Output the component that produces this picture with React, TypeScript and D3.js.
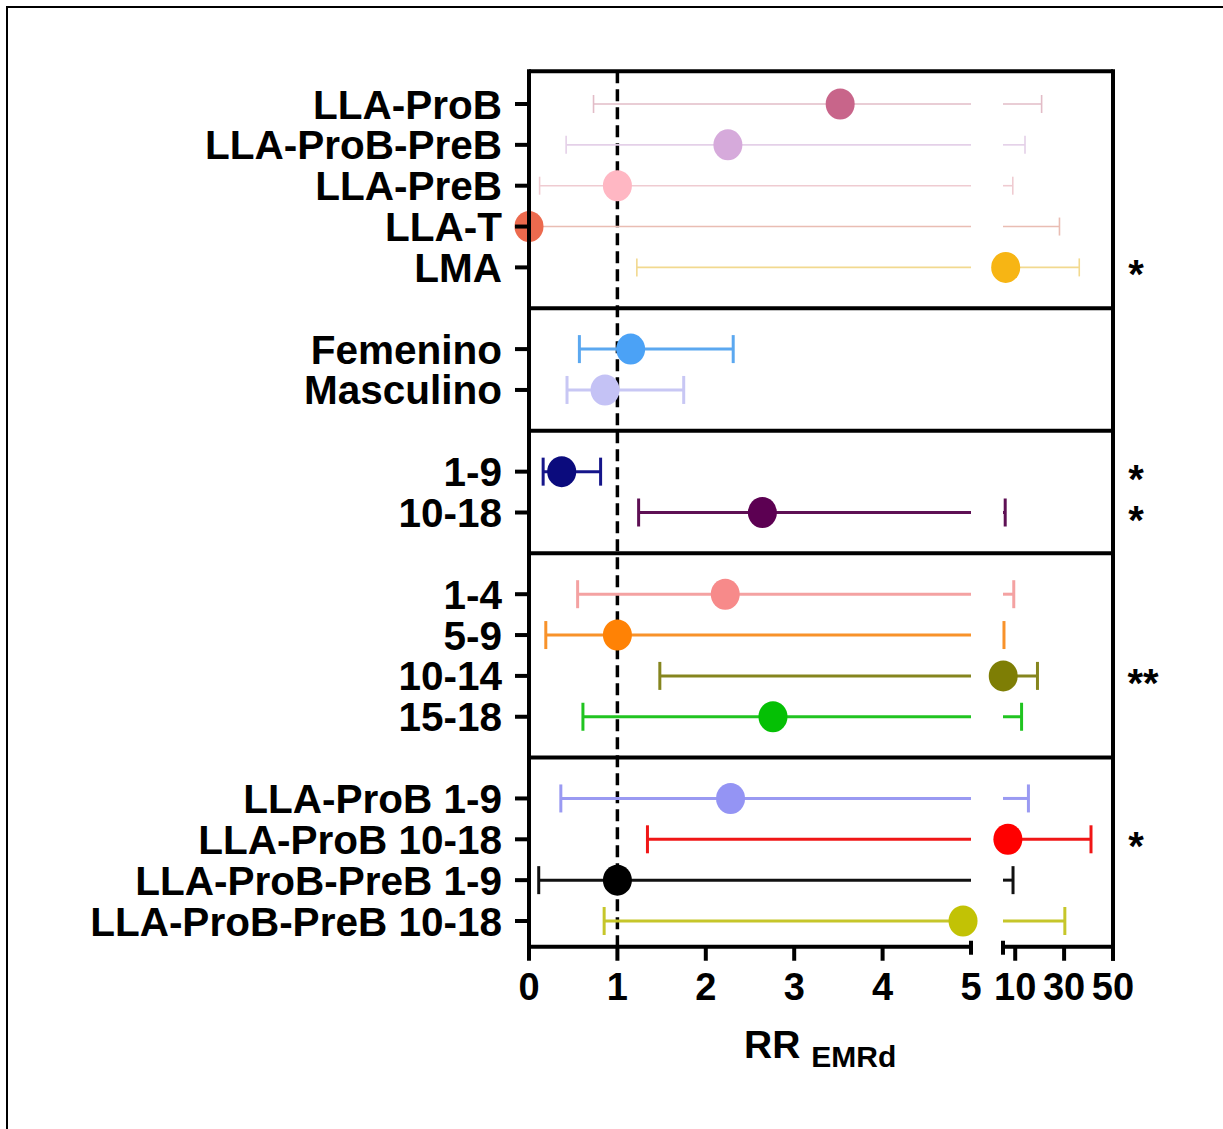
import React from "react";
import * as d3 from "d3";

// ---- data ----
const labels = [
  "LLA-ProB", "LLA-ProB-PreB", "LLA-PreB", "LLA-T", "LMA",
  "Femenino", "Masculino",
  "1-9", "10-18",
  "1-4", "5-9", "10-14", "15-18",
  "LLA-ProB 1-9", "LLA-ProB 10-18", "LLA-ProB-PreB 1-9", "LLA-ProB-PreB 10-18",
];
const panelOf = [0, 0, 0, 0, 0, 1, 1, 2, 2, 3, 3, 3, 3, 4, 4, 4, 4];
const rr = [3.52, 2.25, 1.0, 0.0, 6.1, 1.15, 0.86, 0.37, 2.64, 2.22, 1.0, 5.1, 2.76, 2.28, 7.0, 1.0, 4.91];
const ciLow = [0.73, 0.42, 0.12, 0.0, 1.22, 0.57, 0.43, 0.16, 1.24, 0.55, 0.19, 1.48, 0.61, 0.36, 1.34, 0.11, 0.85];
const ciHigh = [20.8, 14.0, 9.0, 28.1, 36.2, 2.31, 1.75, 0.81, 5.9, 9.4, 5.4, 19.1, 12.6, 15.4, 41.0, 9.1, 30.3];
const signif = ["", "", "", "", "*", "", "", "*", "*", "", "", "**", "", "", "*", "", ""];
const pointColors = [
  "#c8658a", "#d6aadb", "#ffb7c3", "#ec6a4e", "#f7b514",
  "#4ba2f6", "#c4c2f5",
  "#0b0b7d", "#5c0052",
  "#f78a8a", "#ff8205", "#7e7e05", "#05c005",
  "#9494f4", "#ff0000", "#000000", "#c2c205",
];
const lineColors = [
  "#e2bcc7", "#e4d0e8", "#efcbd1", "#e9bdb3", "#f2d98f",
  "#5ba8f0", "#c8c7f4",
  "#15158a", "#5e1054",
  "#f4a2a2", "#f8922a", "#85851e", "#20c420",
  "#9a9af2", "#f01616", "#111111", "#c6c62a",
];
const lowTicks = [0, 1, 2, 3, 4, 5];
const highTicks = [10, 30, 50];

// ---- layout ----
const FONT = "'Liberation Sans', Arial, Helvetica, sans-serif";
const xL = d3.scaleLinear().domain([0, 5]).range([529, 971]);
const xR = d3.scaleLinear().domain([5, 50]).range([1003, 1113]);
const xv = (v: number) => (v <= 5 ? xL(v) : xR(v));

// slot index per row: panels separated by one empty slot
const slots: number[] = panelOf.map((p, i) => i + p);
const y = d3.scaleLinear().domain([0, 20]).range([104, 921]);
const separators = [5, 8, 11, 16].map((s) => y(s));
const yTop = y(-0.8);
const yAxis = y(20.63);

function segments(lo: number, hi: number): [number, number][] {
  if (hi <= 5) return [[xL(lo), xL(hi)]];
  if (lo >= 5) return [[xR(lo), xR(hi)]];
  return [
    [xL(lo), xL(5)],
    [xR(5), xR(hi)],
  ];
}

export default function App() {
  const x0 = xL(0);
  const x1 = xR(50);
  return (
    <svg
      width={1223}
      height={1129}
      style={{ position: "absolute", left: 0, top: 0, background: "#fff" }}
      fontFamily={FONT}
    >
      <rect x={0} y={0} width={1223} height={1129} fill="#fff" />
      {/* outer figure border (left and top) */}
      <path d="M7,1129 V7 H1223" fill="none" stroke="#000" strokeWidth={2} />

      {/* reference line at RR = 1 */}
      <line
        x1={xL(1)}
        x2={xL(1)}
        y1={yTop}
        y2={yAxis}
        stroke="#000"
        strokeWidth={3.5}
        strokeDasharray="12,6"
      />

      {/* error bars and points */}
      {labels.map((lab, i) => {
        const yy = y(slots[i]);
        const thin = panelOf[i] === 0;
        const sw = thin ? 1.6 : 3;
        const cap = thin ? 9 : 14;
        const segs = segments(ciLow[i], ciHigh[i]);
        return (
          <g key={lab}>
            {segs.map((s, k) => (
              <line key={k} x1={s[0]} x2={s[1]} y1={yy} y2={yy} stroke={lineColors[i]} strokeWidth={sw} />
            ))}
            {ciLow[i] > 0 && (
              <line
                x1={xv(ciLow[i])}
                x2={xv(ciLow[i])}
                y1={yy - cap}
                y2={yy + cap}
                stroke={lineColors[i]}
                strokeWidth={sw}
              />
            )}
            <line
              x1={xv(ciHigh[i])}
              x2={xv(ciHigh[i])}
              y1={yy - cap}
              y2={yy + cap}
              stroke={lineColors[i]}
              strokeWidth={sw}
            />
            <ellipse cx={xv(rr[i])} cy={yy} rx={14.5} ry={15.5} fill={pointColors[i]} />
          </g>
        );
      })}

      {/* panel frame */}
      <line x1={x0} x2={x1} y1={yTop} y2={yTop} stroke="#000" strokeWidth={4} />
      {separators.map((s, k) => (
        <line key={k} x1={x0} x2={x1} y1={s} y2={s} stroke="#000" strokeWidth={4} />
      ))}
      <line x1={x0} x2={x0} y1={yTop - 2} y2={yAxis + 2} stroke="#000" strokeWidth={4} />
      <line x1={x1} x2={x1} y1={yTop - 2} y2={yAxis + 14} stroke="#000" strokeWidth={4} />

      {/* y axis ticks and labels */}
      {labels.map((lab, i) => {
        const yy = y(slots[i]);
        return (
          <g key={"yl" + i}>
            <line x1={x0 - 14} x2={x0} y1={yy} y2={yy} stroke="#000" strokeWidth={4} />
            <text
              x={502}
              y={yy + 14.5}
              textAnchor="end"
              fontSize={40.5}
              fontWeight="bold"
              fill="#000"
            >
              {lab}
            </text>
            {signif[i] && (
              <text
                x={signif[i].length > 1 ? 1143 : 1136}
                y={yy + 21}
                textAnchor="middle"
                fontSize={40}
                fontWeight="bold"
                fill="#000"
              >
                {signif[i]}
              </text>
            )}
          </g>
        );
      })}

      {/* broken x axis */}
      <line x1={x0 - 2} x2={xL(5)} y1={yAxis} y2={yAxis} stroke="#000" strokeWidth={4} />
      <line x1={xR(5)} x2={x1 + 2} y1={yAxis} y2={yAxis} stroke="#000" strokeWidth={4} />
      {/* break caps */}
      <line x1={xL(5)} x2={xL(5)} y1={yAxis - 6} y2={yAxis + 8} stroke="#000" strokeWidth={4} />
      <line x1={xR(5)} x2={xR(5)} y1={yAxis - 6} y2={yAxis + 8} stroke="#000" strokeWidth={4} />
      {lowTicks.map((t) => (
        <g key={"lt" + t}>
          {t < 5 && <line x1={xL(t)} x2={xL(t)} y1={yAxis} y2={yAxis + 14} stroke="#000" strokeWidth={4} />}
          <text x={xL(t)} y={1000} textAnchor="middle" fontSize={38} fontWeight="bold" fill="#000">
            {t}
          </text>
        </g>
      ))}
      {highTicks.map((t) => (
        <g key={"ht" + t}>
          <line x1={xR(t)} x2={xR(t)} y1={yAxis} y2={yAxis + 14} stroke="#000" strokeWidth={4} />
          <text x={xR(t)} y={1000} textAnchor="middle" fontSize={38} fontWeight="bold" fill="#000">
            {t}
          </text>
        </g>
      ))}

      {/* axis title */}
      <text x={744} y={1058} fontSize={39} fontWeight="bold" fill="#000">
        RR
        <tspan fontSize={30} dx={11} dy={9}>
          EMRd
        </tspan>
      </text>
    </svg>
  );
}
